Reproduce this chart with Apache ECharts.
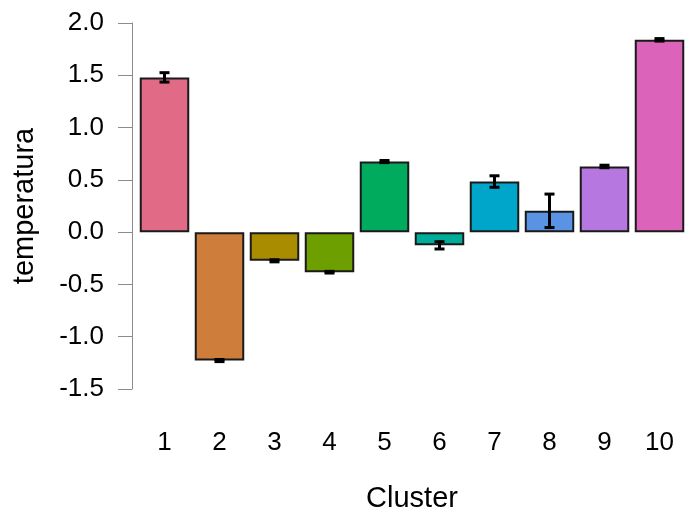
<!DOCTYPE html>
<html>
<head>
<meta charset="utf-8">
<script src="https://cdn.jsdelivr.net/npm/echarts@6/dist/echarts.min.js"></script>
<style>html,body{margin:0;padding:0;background:#fff}#c{width:685px;height:512px}</style>
</head>
<body>
<div id="c"></div>
<script>
var categories = ['1','2','3','4','5','6','7','8','9','10'];
var values = [1.48, -1.228, -0.274, -0.383, 0.675, -0.126, 0.484, 0.204, 0.628, 1.839];
var errors = [0.045, 0.01, 0.01, 0.008, 0.01, 0.035, 0.055, 0.16, 0.012, 0.012];
var colors = ['#E16A86','#CE7D3B','#AA8C00','#6E9F00','#00AB5E','#00AD9A','#00A6CA','#5B93E4','#B777E0','#DB63BA'];
var yTicks = [-1.5, -1.0, -0.5, 0.0, 0.5, 1.0, 1.5, 2.0];

var chart = echarts.init(document.getElementById('c'), null, {renderer: 'canvas'});
var font = 'Liberation Sans, Arial, sans-serif';
chart.setOption({
  animation: false,
  grid: {left: 137, top: 23, width: 550, bottom: 123, containLabel: false, outerBoundsMode: 'none'},
  xAxis: {
    type: 'category',
    data: categories,
    axisLine: {show: false, onZero: false},
    axisTick: {show: false},
    axisLabel: {color: '#000', fontSize: 26, fontFamily: font, margin: 41},
    name: 'Cluster',
    nameLocation: 'middle',
    nameGap: 95,
    nameTextStyle: {color: '#000', fontSize: 29, fontFamily: font}
  },
  yAxis: {
    type: 'value',
    min: yTicks[0],
    max: yTicks[yTicks.length - 1],
    interval: 0.5,
    offset: 5,
    splitLine: {show: false},
    axisLine: {show: true, lineStyle: {color: '#8c8c8c', width: 1}},
    axisTick: {show: true, length: 14, lineStyle: {color: '#8c8c8c', width: 1}},
    axisLabel: {color: '#000', fontSize: 26, fontFamily: font, margin: 28,
      formatter: function (v) { return v.toFixed(1); }},
    name: 'temperatura',
    nameLocation: 'middle',
    nameGap: 93,
    nameTextStyle: {color: '#000', fontSize: 29, fontFamily: font}
  },
  series: [
    {
      type: 'bar',
      data: values.map(function (v, i) {
        return {value: v, itemStyle: {color: colors[i]}};
      }),
      barCategoryGap: '10%',
      itemStyle: {borderColor: '#1a1a1a', borderWidth: 2}
    },
    {
      type: 'custom',
      data: values.map(function (v, i) { return [i, v - errors[i], v + errors[i]]; }),
      renderItem: function (params, api) {
        var x = api.value(0);
        var lo = api.coord([x, api.value(1)]);
        var hi = api.coord([x, api.value(2)]);
        var hw = 5;
        var st = {stroke: '#000', lineWidth: 3};
        return {
          type: 'group',
          children: [
            {type: 'line', shape: {x1: lo[0], y1: lo[1], x2: hi[0], y2: hi[1]}, style: st},
            {type: 'line', shape: {x1: lo[0] - hw, y1: lo[1], x2: lo[0] + hw, y2: lo[1]}, style: st},
            {type: 'line', shape: {x1: hi[0] - hw, y1: hi[1], x2: hi[0] + hw, y2: hi[1]}, style: st}
          ]
        };
      },
      z: 10
    }
  ]
});
</script>
</body>
</html>
